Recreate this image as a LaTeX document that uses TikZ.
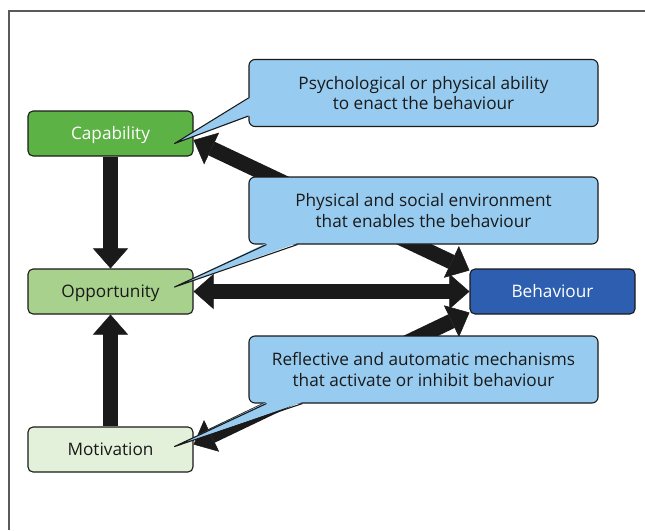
\documentclass[tikz,border=0pt]{standalone}
\usepackage{fontspec}
\setmainfont{Open Sans}
\usetikzlibrary{arrows.meta,calc}

\definecolor{capgreen}{HTML}{5DB246}
\definecolor{oppgreen}{HTML}{A9D18E}
\definecolor{motgreen}{HTML}{E3F0DA}
\definecolor{behblue}{HTML}{2E5EAF}
\definecolor{calloutblue}{HTML}{97CBF0}
\definecolor{inkdark}{HTML}{1A1A1A}
\definecolor{framegray}{HTML}{5A5A5A}

\tikzset{headtip/.tip={Triangle[length=20pt,width=35pt,line width=0.5pt]}}

\begin{document}
\begin{tikzpicture}[x=1pt,y=-1pt,
  every node/.style={font=\fontsize{17.2}{20.5}\selectfont},
  comp/.style={draw=inkdark, line width=1.1pt, rounded corners=5pt,
    minimum width=165pt, minimum height=45pt, inner sep=0pt, text=inkdark,
    text height=12.2pt, text depth=0pt},
  callout/.style={draw=inkdark, line width=1.1pt, rounded corners=6pt,
    fill=calloutblue, minimum width=349pt, minimum height=67pt,
    inner sep=0pt, align=center, text=inkdark},
  tailfill/.style={fill=calloutblue},
  tailline/.style={draw=inkdark, line width=1.1pt, line join=round},
  blockarrow/.style={draw=inkdark, line width=15pt, -headtip},
  blockboth/.style={draw=inkdark, line width=15pt, headtip-headtip},
]
\useasboundingbox (0,0) rectangle (645,530);

% partial frame: top and left rules
\draw[framegray, line width=1.3pt] (9,530) -- (9,11) -- (645,11);

% COM-B components
\node[comp, fill=capgreen, text=white] (cap) at (110.5,133.5) {Capability};
\node[comp, fill=oppgreen] (opp) at (110.5,291.5) {Opportunity};
\node[comp, fill=motgreen] (mot) at (110.5,449.5) {Motivation};
\node[comp, fill=behblue, text=white] (beh) at (552.5,291.5) {Behaviour};

% block arrows
\draw[blockarrow] (cap.south) -- (opp.north);
\draw[blockarrow] (mot.north) -- (opp.south);
\draw[blockboth] (opp.east) -- (beh.west);
\draw[blockboth] ([yshift=-6.5pt]cap.east) -- ([yshift=-2pt]beh.north west);
\draw[blockboth] ([yshift=5pt]mot.east) -- ([yshift=2pt]beh.south west);

% callout boxes
\node[callout] (c1) at (423.5,93) {Psychological or physical ability\\to enact the behaviour};
\node[callout] (c2) at (423.5,210.5) {Physical and social environment\\that enables the behaviour};
\node[callout] (c3) at (423.5,369.5) {Reflective and automatic mechanisms\\that activate or inhibit behaviour};

% callout tails
\coordinate (t1a) at ([yshift=-5pt]c1.west);
\coordinate (t1b) at ([yshift=-23pt]c1.west);
\coordinate (t1) at ([xshift=-19pt,yshift=-10pt]cap.east);
\fill[tailfill] ([xshift=1.5pt]t1a) -- (t1) -- ([xshift=1.5pt]t1b) -- cycle;
\draw[tailline] (t1a) -- (t1) -- (t1b);

\coordinate (t2a) at ([xshift=18pt]c2.south west);
\coordinate (t2b) at ([xshift=49pt]c2.south west);
\coordinate (t2) at ([xshift=-19pt,yshift=4.5pt]opp.east);
\fill[tailfill] ([yshift=1.5pt]t2a) -- (t2) -- ([yshift=1.5pt]t2b) -- cycle;
\draw[tailline] (t2a) -- (t2) -- (t2b);

\coordinate (t3a) at ([xshift=18pt]c3.south west);
\coordinate (t3b) at ([xshift=54pt]c3.south west);
\coordinate (t3) at ([xshift=-19pt,yshift=3pt]mot.east);
\fill[tailfill] ([yshift=1.5pt]t3a) -- (t3) -- ([yshift=1.5pt]t3b) -- cycle;
\draw[tailline] (t3a) -- (t3) -- (t3b);
\end{tikzpicture}
\end{document}
